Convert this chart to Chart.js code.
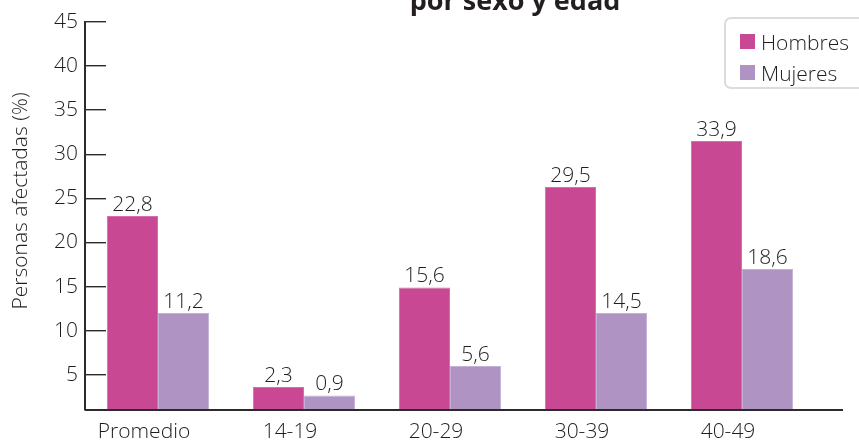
<!DOCTYPE html>
<html lang="es">
<head>
<meta charset="utf-8">
<title>Personas afectadas por sexo y edad</title>
<script src="https://cdn.jsdelivr.net/npm/chart.js@4/dist/chart.umd.min.js"></script>
<style>
  html, body { margin: 0; padding: 0; background: #fff; }
  #wrap { position: relative; width: 859px; height: 442px; overflow: hidden; }
  #legend {
    position: absolute; left: 724px; top: 17px; width: 160px; height: 72px;
    border: 2px solid #dcdcdc; border-radius: 7px; box-sizing: border-box;
    font-family: "Open Sans", "Noto Sans", sans-serif; font-weight: 300;
    font-size: 21px; color: #1e1e1e; padding: 7px 0 0 14px;
  }
  .lg-item { display: flex; align-items: center; height: 31px; }
  .lg-dot { width: 15px; height: 15px; margin-right: 6px; }
</style>
</head>
<body>
<div id="wrap">
  <canvas id="chart" width="859" height="442"></canvas>
  <div id="legend"></div>
</div>
<script>
// ── Data ──────────────────────────────────────────────────────────────────────
const categorias = ['Promedio', '14-19', '20-29', '30-39', '40-49'];
const series     = ['Hombres', 'Mujeres'];

// printed values above each bar
const hombresRotulo = [22.8, 2.3, 15.6, 29.5, 33.9];
const mujeresRotulo = [11.2, 0.9, 5.6, 14.5, 18.6];

// bar heights as they are drawn in the original (they don't match the printed values)
const hombresAltura = [23.0, 3.6, 14.9, 26.3, 31.5];
const mujeresAltura = [12.0, 2.65, 6.0, 12.0, 17.0];

const yTicks = [5, 10, 15, 20, 25, 30, 35, 40, 45];

// ── Styles ────────────────────────────────────────────────────────────────────
const FONT   = '"Open Sans", "Noto Sans", sans-serif';
const INK    = '#1e1e1e';
const COLORS = [
  { fill: '#c84893', edge: '#d56fa9' },
  { fill: '#ae93c3', edge: '#c5b1d6' },
];

const fmt = v => v.toLocaleString('es-ES', { minimumFractionDigits: 1, maximumFractionDigits: 1 });

// ── Plugins ───────────────────────────────────────────────────────────────────
const valueLabels = {
  id: 'valueLabels',
  afterDatasetsDraw(chart) {
    const ctx = chart.ctx;
    const rotulos = [hombresRotulo, mujeresRotulo];
    ctx.save();
    ctx.font = `300 21px ${FONT}`;
    ctx.fillStyle = INK;
    ctx.textAlign = 'center';
    ctx.textBaseline = 'alphabetic';
    chart.data.datasets.forEach((ds, di) => {
      chart.getDatasetMeta(di).data.forEach((bar, i) => {
        ctx.fillText(fmt(rotulos[di][i]), bar.x, bar.y - 5);
      });
    });
    ctx.restore();
  }
};

const extras = {
  id: 'extras',
  afterDraw(chart) {
    const { ctx, chartArea } = chart;
    ctx.save();
    // baseline runs a bit past the last category
    ctx.strokeStyle = '#2b2b2b';
    ctx.lineWidth = 2;
    ctx.beginPath();
    ctx.moveTo(chartArea.left, chartArea.bottom);
    ctx.lineTo(chartArea.right + 28, chartArea.bottom);
    ctx.stroke();
    // title, cut off by the top edge
    ctx.font = `700 27px ${FONT}`;
    ctx.fillStyle = '#231f20';
    ctx.textAlign = 'center';
    ctx.textBaseline = 'alphabetic';
    ctx.fillText('por sexo y edad', 515, 10);
    // y axis title
    ctx.translate(21, 201);
    ctx.rotate(-Math.PI / 2);
    ctx.font = `300 21px ${FONT}`;
    ctx.fillStyle = INK;
    ctx.textBaseline = 'middle';
    ctx.fillText('Personas afectadas (%)', 0, 0);
    ctx.restore();
  }
};

// ── Chart ─────────────────────────────────────────────────────────────────────
const chart = new Chart(document.getElementById('chart').getContext('2d'), {
  type: 'bar',
  data: {
    labels: categorias,
    datasets: [
      { label: series[0], data: hombresAltura, backgroundColor: COLORS[0].fill, borderColor: COLORS[0].edge, borderWidth: 1 },
      { label: series[1], data: mujeresAltura, backgroundColor: COLORS[1].fill, borderColor: COLORS[1].edge, borderWidth: 1 },
    ]
  },
  options: {
    responsive: false,
    animation: false,
    layout: { padding: { top: 22, right: 44, left: 0, bottom: 0 } },
    datasets: { bar: { categoryPercentage: 0.70, barPercentage: 1.0 } },
    plugins: {
      legend: { display: false },
      tooltip: { enabled: false },
    },
    scales: {
      x: {
        grid: { display: false, drawTicks: false },
        border: { display: false },
        ticks: { color: INK, font: { family: FONT, size: 21, weight: 300 }, padding: 9, labelOffset: -14 },
        afterFit: s => { s.height = 32; },
      },
      y: {
        min: 1, max: 45,
        afterBuildTicks: s => { s.ticks = yTicks.map(v => ({ value: v })); },
        afterFit: s => { s.width = 85; s.paddingTop = 0; s.paddingBottom = 0; },
        grid: { drawOnChartArea: false, drawTicks: true, tickLength: -21, color: '#2b2b2b', lineWidth: 1.4 },
        border: { display: true, color: '#2b2b2b', width: 2 },
        ticks: { color: INK, font: { family: FONT, size: 21, weight: 300 }, padding: 28 },
      }
    }
  },
  plugins: [valueLabels, extras]
});

// ── Legend (built from the datasets) ─────────────────────────────────────────
document.getElementById('legend').innerHTML = chart.data.datasets.map(ds => `
  <div class="lg-item"><span class="lg-dot" style="background:${ds.backgroundColor};"></span>${ds.label}</div>
`).join('');
</script>
</body>
</html>
